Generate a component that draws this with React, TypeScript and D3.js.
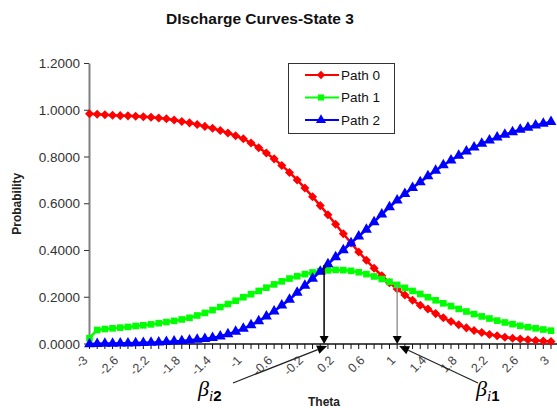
import React, { useEffect, useRef } from 'react';
import * as d3 from 'd3';

// theta categories (Excel category axis, step 0.1)
const theta = [
  -3.0, -2.9, -2.8, -2.7, -2.6, -2.5, -2.4, -2.3, -2.2, -2.1,
  -2.0, -1.9, -1.8, -1.7, -1.6, -1.5, -1.4, -1.3, -1.2, -1.1,
  -1.0, -0.9, -0.8, -0.7, -0.6, -0.5, -0.4, -0.3, -0.2, -0.1,
  0.0, 0.1, 0.2, 0.3, 0.4, 0.5, 0.6, 0.7, 0.8, 0.9,
  1.0, 1.1, 1.2, 1.3, 1.4, 1.5, 1.6, 1.7, 1.8, 1.9,
  2.0, 2.1, 2.2, 2.3, 2.4, 2.5, 2.6, 2.7, 2.8, 2.9, 3.0,
];

const path0 = [
  0.985, 0.983, 0.981, 0.979, 0.977, 0.976, 0.974, 0.972, 0.970, 0.967,
  0.964, 0.958, 0.952, 0.946, 0.939, 0.931, 0.923, 0.913, 0.903, 0.891,
  0.878, 0.860, 0.840, 0.817, 0.792, 0.764, 0.734, 0.702, 0.667, 0.630,
  0.592, 0.553, 0.512, 0.472, 0.432, 0.394, 0.358, 0.324, 0.292, 0.262,
  0.235, 0.210, 0.187, 0.166, 0.150, 0.130, 0.112, 0.096, 0.082, 0.069,
  0.058, 0.049, 0.041, 0.035, 0.029, 0.025, 0.021, 0.018, 0.015, 0.013, 0.011,
];

const path1 = [
  0.025, 0.060, 0.064, 0.067, 0.070, 0.073, 0.077, 0.080, 0.084, 0.089,
  0.094, 0.099, 0.105, 0.112, 0.122, 0.133, 0.145, 0.158, 0.171, 0.185,
  0.200, 0.213, 0.227, 0.241, 0.255, 0.268, 0.280, 0.290, 0.299, 0.306,
  0.312, 0.315, 0.317, 0.316, 0.313, 0.307, 0.299, 0.289, 0.278, 0.266,
  0.253, 0.240, 0.227, 0.214, 0.200, 0.187, 0.174, 0.162, 0.150, 0.139,
  0.128, 0.118, 0.109, 0.100, 0.092, 0.085, 0.078, 0.072, 0.067, 0.062, 0.057,
];

const path2 = [
  0.000, 0.001, 0.002, 0.002, 0.003, 0.003, 0.004, 0.005, 0.006, 0.007,
  0.009, 0.011, 0.013, 0.016, 0.019, 0.022, 0.026, 0.033, 0.042, 0.053,
  0.066, 0.081, 0.098, 0.118, 0.140, 0.165, 0.190, 0.220, 0.250, 0.280,
  0.310, 0.342, 0.372, 0.402, 0.432, 0.461, 0.489, 0.522, 0.555, 0.586,
  0.615, 0.642, 0.668, 0.693, 0.718, 0.742, 0.765, 0.786, 0.806, 0.824,
  0.841, 0.857, 0.871, 0.884, 0.896, 0.907, 0.917, 0.926, 0.935, 0.943, 0.950,
];

const seriesNames = ['Path 0', 'Path 1', 'Path 2'];
const yTicks = [0, 0.2, 0.4, 0.6, 0.8, 1.0, 1.2];
const xLabelTicks = [-3, -2.6, -2.2, -1.8, -1.4, -1, -0.6, -0.2, 0.2, 0.6, 1, 1.4, 1.8, 2.2, 2.6, 3];
const xTickLabels = ['-3', '-2.6', '-2.2', '-1.8', '-1.4', '-1', '-0.6', '-0.2', '0.2', '0.6', '1', '1.4', '1.8', '2.2', '2.6', '3'];

// threshold annotations: theta position, and probability where the vertical arrow starts
const betaTheta = [0.05, 1.0];
const betaTop = [0.338, 0.255];
const betaSub = ['2', '1'];

const FONT = 'Arial, "Liberation Sans", sans-serif';

function App() {
  const svgRef = useRef<SVGSVGElement>(null);

  useEffect(() => {
    const svg = d3.select(svgRef.current);
    svg.selectAll('*').remove();

    const x = d3.scaleLinear().domain([-3, 3]).range([89.5, 551]);
    const y = d3.scaleLinear().domain([0, 1.2]).range([344, 63.5]);

    svg.append('rect').attr('width', 557).attr('height', 408).attr('fill', '#fff');

    // title
    svg.append('text')
      .attr('x', 260).attr('y', 24)
      .attr('text-anchor', 'middle')
      .attr('font-family', FONT).attr('font-weight', 'bold').attr('font-size', 15.5)
      .attr('fill', '#111')
      .text('DIscharge Curves-State 3');

    // y axis
    svg.append('line')
      .attr('x1', 89.5).attr('x2', 89.5).attr('y1', y(1.2)).attr('y2', y(0))
      .attr('stroke', '#808080').attr('stroke-width', 2);
    const yt = svg.append('g');
    yt.selectAll('line').data(yTicks).enter().append('line')
      .attr('x1', 84).attr('x2', 89).attr('y1', d => y(d)).attr('y2', d => y(d))
      .attr('stroke', '#333').attr('stroke-width', 1);
    yt.selectAll('text').data(yTicks).enter().append('text')
      .attr('x', 80).attr('y', d => y(d) + 4.5)
      .attr('text-anchor', 'end')
      .attr('font-family', FONT).attr('font-size', 13.5).attr('fill', '#333')
      .text(d => d3.format('.4f')(d));

    svg.append('text')
      .attr('transform', `translate(21,${y(0.6)}) rotate(-90)`)
      .attr('text-anchor', 'middle')
      .attr('font-family', FONT).attr('font-weight', 'bold').attr('font-size', 12)
      .attr('fill', '#222')
      .text('Probability');

    // x axis
    svg.append('line')
      .attr('x1', 89.5).attr('x2', 557).attr('y1', y(0)).attr('y2', y(0))
      .attr('stroke', '#111').attr('stroke-width', 1.5);
    svg.append('g').selectAll('line').data(theta).enter().append('line')
      .attr('x1', d => x(d)).attr('x2', d => x(d)).attr('y1', y(0)).attr('y2', y(0) + 5)
      .attr('stroke', '#111').attr('stroke-width', 1);
    svg.append('g').selectAll('text').data(xLabelTicks).enter().append('text')
      .attr('transform', d => `translate(${x(d) - 1},${y(0) + 17}) rotate(-45)`)
      .attr('text-anchor', 'end')
      .attr('font-family', FONT).attr('font-size', 12.5).attr('fill', '#444')
      .text((d, i) => xTickLabels[i]);

    svg.append('text')
      .attr('x', 324).attr('y', 406)
      .attr('text-anchor', 'middle')
      .attr('font-family', FONT).attr('font-weight', 'bold').attr('font-size', 12)
      .attr('fill', '#222')
      .text('Theta');

    // series
    const series = [
      { name: seriesNames[0], values: path0, color: '#ff0000', symbol: d3.symbolDiamond2, size: 52 },
      { name: seriesNames[1], values: path1, color: '#00ff00', symbol: d3.symbolSquare, size: 44 },
      { name: seriesNames[2], values: path2, color: '#0000ff', symbol: d3.symbolTriangle, size: 52 },
    ];
    const line = d3.line<number>().x((d, i) => x(theta[i])).y(d => y(d));

    series.forEach(s => {
      const g = svg.append('g');
      g.append('path')
        .attr('d', line(s.values))
        .attr('fill', 'none').attr('stroke', s.color).attr('stroke-width', 2.5);
      g.selectAll('path.m').data(s.values).enter().append('path')
        .attr('class', 'm')
        .attr('transform', (d, i) => `translate(${x(theta[i])},${y(d)})`)
        .attr('d', d3.symbol().type(s.symbol).size(s.size)())
        .attr('fill', s.color);
    });

    // legend
    const lg = svg.append('g');
    lg.append('rect')
      .attr('x', 288.5).attr('y', 63.5).attr('width', 106).attr('height', 70)
      .attr('fill', '#fff').attr('stroke', '#333').attr('stroke-width', 1);
    series.forEach((s, i) => {
      const ly = 75 + i * 22.5;
      lg.append('line')
        .attr('x1', 305).attr('x2', 339).attr('y1', ly).attr('y2', ly)
        .attr('stroke', s.color).attr('stroke-width', 2);
      lg.append('path')
        .attr('transform', `translate(321,${ly})`)
        .attr('d', d3.symbol().type(s.symbol).size(s.size * 0.85)())
        .attr('fill', s.color);
      lg.append('text')
        .attr('x', 341).attr('y', ly + 4.5)
        .attr('font-family', FONT).attr('font-size', 13.5).attr('fill', '#111')
        .text(s.name);
    });

    // threshold arrows
    const colors = ['#000', '#999'];
    betaTheta.forEach((b, i) => {
      const bx = x(b);
      const by = y(0);
      svg.append('line')
        .attr('x1', bx).attr('x2', bx).attr('y1', y(betaTop[i])).attr('y2', by - 6)
        .attr('stroke', colors[i]).attr('stroke-width', 1.5);
      svg.append('path')
        .attr('d', `M${bx - 4.5},${by - 8}L${bx + 4.5},${by - 8}L${bx},${by}Z`)
        .attr('fill', '#000');
    });

    // diagonal pointers from the beta labels
    const pointers = [
      { tx: x(betaTheta[0]) + 3, ty: y(0) + 2, sx: 233, sy: 383 },
      { tx: x(betaTheta[1]) + 2, ty: y(0) + 2, sx: 478, sy: 383 },
    ];
    pointers.forEach(p => {
      const ang = Math.atan2(p.ty - p.sy, p.tx - p.sx);
      const L = 10, W = 4.5;
      const bx = p.tx - L * Math.cos(ang), by = p.ty - L * Math.sin(ang);
      svg.append('line')
        .attr('x1', p.sx).attr('y1', p.sy).attr('x2', bx).attr('y2', by)
        .attr('stroke', '#222').attr('stroke-width', 1.2);
      svg.append('path')
        .attr('d', `M${p.tx},${p.ty}L${bx - W * Math.sin(ang)},${by + W * Math.cos(ang)}L${bx + W * Math.sin(ang)},${by - W * Math.cos(ang)}Z`)
        .attr('fill', '#000');
    });

    // beta labels
    const labelX = [198, 476];
    betaSub.forEach((s, i) => {
      const t = svg.append('text')
        .attr('x', labelX[i]).attr('y', 396)
        .attr('font-family', '"Liberation Serif", "Times New Roman", serif')
        .attr('font-size', 22).attr('font-style', 'italic').attr('fill', '#000');
      t.append('tspan').text('β');
      t.append('tspan').attr('dy', 5).attr('font-size', 15).text('i');
      t.append('tspan').attr('font-size', 15).attr('font-style', 'normal').attr('font-weight', 'bold')
        .attr('font-family', FONT).text(s);
    });
  }, []);

  return (
    <svg ref={svgRef} width={557} height={408}
      style={{ position: 'absolute', left: 0, top: 0, display: 'block' }} />
  );
}

export default App;
